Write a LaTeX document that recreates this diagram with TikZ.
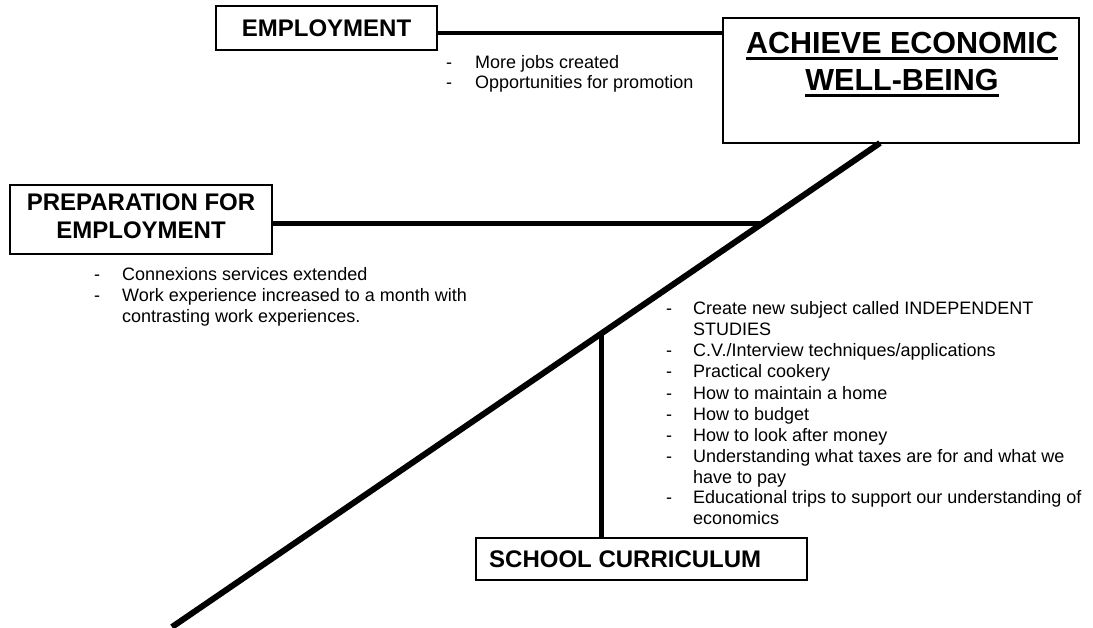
\documentclass[tikz,border=0pt]{standalone}
\usepackage{fontspec}
\setmainfont{Liberation Sans}
\begin{document}
\begin{tikzpicture}[x=1pt,y=-1pt,
  box/.style={draw, line width=1.8pt, inner sep=0pt},
  head/.style={font=\fontsize{24}{28}\selectfont\bfseries, text height=17pt, text depth=0pt, inner sep=0pt},
  title/.style={font=\fontsize{30.5}{36}\selectfont\bfseries, text height=22pt, text depth=0pt, inner sep=0pt},
  body/.style={font=\fontsize{18}{21}\selectfont, anchor=west, text height=13pt, text depth=0pt, inner sep=0pt},
  bar/.style={line width=#1, line cap=butt}
]
\useasboundingbox (0,0) rectangle (1093,628);

% boxes
\node[box, head, minimum width=221pt, minimum height=44pt] (emp) at (326.5,28) {EMPLOYMENT};
\node[box, minimum width=356pt, minimum height=125pt] (ach) at (901,80.5) {};
\node[box, minimum width=262pt, minimum height=69pt] (prep) at (141,219.5) {};
\node[box, minimum width=331pt, minimum height=42pt] (school) at (641.5,559) {};

% box texts
\node[title] (a1) at (902,43) {ACHIEVE ECONOMIC};
\node[title] (a2) at (902,80) {WELL-BEING};
\draw[line width=3pt] ([yshift=-4.5pt]a1.south west) -- ([yshift=-4.5pt]a1.south east);
\draw[line width=3pt] ([yshift=-4.5pt]a2.south west) -- ([yshift=-4.5pt]a2.south east);
\node[head] (p1) at (141,202) {PREPARATION FOR};
\node[head] (p2) at (141,230) {EMPLOYMENT};
\node[head, anchor=west] (s1) at (489,559) {SCHOOL CURRICULUM};

% spine and branches
\coordinate (tail) at (172,627);
\coordinate (top) at (880,143);
\coordinate (j1) at (761.5,224);
\coordinate (j2) at (601,333.7);
\draw[bar=6pt] (tail) -- (top);
\draw[bar=3.5pt] ([yshift=-5pt]emp.east) -- ([yshift=-5pt]emp.east -| ach.west);
\draw[bar=5pt] (prep.east |- j1) -- (j1);
\draw[bar=5pt] (j2) -- (j2 |- school.north);

% employment notes
\node[body] (e1d) at (446,62) {-};
\node[body] (e1) at (475,62) {More jobs created};
\node[body] (e2d) at (446,82) {-};
\node[body] (e2) at (475,82) {Opportunities for promotion};

% preparation notes
\node[body] (q1d) at (94,274) {-};
\node[body] (q1) at (122,274) {Connexions services extended};
\node[body] (q2d) at (94,295) {-};
\node[body] (q2) at (122,295) {Work experience increased to a month with};
\node[body] (q3) at (122,316) {contrasting work experiences.};

% curriculum notes
\node[body] (r1d) at (666,308) {-};
\node[body] (r1) at (693,308) {Create new subject called INDEPENDENT};
\node[body] (r2) at (693,329) {STUDIES};
\node[body] (r3d) at (666,350) {-};
\node[body] (r3) at (693,350) {C.V./Interview techniques/applications};
\node[body] (r4d) at (666,371) {-};
\node[body] (r4) at (693,371) {Practical cookery};
\node[body] (r5d) at (666,393) {-};
\node[body] (r5) at (693,393) {How to maintain a home};
\node[body] (r6d) at (666,414) {-};
\node[body] (r6) at (693,414) {How to budget};
\node[body] (r7d) at (666,435) {-};
\node[body] (r7) at (693,435) {How to look after money};
\node[body] (r8d) at (666,456) {-};
\node[body] (r8) at (693,456) {Understanding what taxes are for and what we};
\node[body] (r9) at (693,477) {have to pay};
\node[body] (r10d) at (666,497) {-};
\node[body] (r10) at (693,497) {Educational trips to support our understanding of};
\node[body] (r11) at (693,518) {economics};
\end{tikzpicture}
\end{document}
